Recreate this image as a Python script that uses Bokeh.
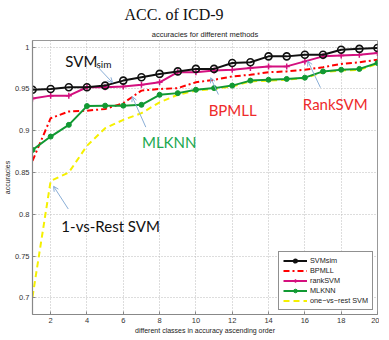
from bokeh.plotting import figure
from bokeh.models import (Range1d, FixedTicker, CustomJSTickFormatter, Legend, LegendItem,
                          Label, Arrow, OpenHead, Title)
from bokeh.embed import file_html
from bokeh.resources import INLINE

# ---- data ----
classes = list(range(1, 21))
svm_sim = [0.949, 0.950, 0.952, 0.952, 0.954, 0.960, 0.964, 0.968, 0.971, 0.974,
           0.974, 0.981, 0.982, 0.989, 0.989, 0.991, 0.991, 0.997, 0.998, 0.999]
bpmll = [0.864, 0.915, 0.923, 0.924, 0.926, 0.933, 0.948, 0.950, 0.951, 0.958,
         0.961, 0.965, 0.967, 0.970, 0.971, 0.973, 0.976, 0.980, 0.982, 0.985]
rank_svm = [0.9385, 0.942, 0.942, 0.952, 0.952, 0.953, 0.955, 0.958, 0.970, 0.970,
            0.972, 0.973, 0.975, 0.977, 0.977, 0.983, 0.989, 0.990, 0.991, 0.993]
mlknn = [0.877, 0.893, 0.907, 0.9295, 0.930, 0.930, 0.931, 0.943, 0.945, 0.949,
         0.951, 0.954, 0.960, 0.961, 0.962, 0.9635, 0.971, 0.973, 0.974, 0.981]
one_vs_rest = [0.701, 0.840, 0.850, 0.882, 0.903, 0.913, 0.921, 0.934, 0.943, 0.948,
               0.950, 0.953, 0.959, 0.960, 0.961, 0.963, 0.970, 0.972, 0.973, 0.980]

x_ticks = [2, 4, 6, 8, 10, 12, 14, 16, 18, 20]
y_ticks = [0.7, 0.75, 0.8, 0.85, 0.9, 0.95, 1.0]

legend_labels = ["SVMsim", "BPMLL", "rankSVM", "MLKNN", "one\u2212vs\u2212rest SVM"]

# annotations: (text, x, y, color, size)
notes = [
    ("SVM", 2.81, 0.9835, "#111111", "15px"),
    ("sim", 4.52, 0.980, "#111111", "10px"),
    ("MLKNN", 7.03, 0.8866, "#1aa84f", "15px"),
    ("BPMLL", 10.70, 0.9244, "#ee2a2a", "15px"),
    ("RankSVM", 15.89, 0.9315, "#ee2a2a", "15px"),
    ("1-vs-Rest SVM", 2.59, 0.7862, "#111111", "15px"),
]
# arrows: (x_start, y_start, x_end, y_end)
arrows = [
    (4.49, 0.9787, 5.41, 0.9575),
    (7.24, 0.9043, 6.49, 0.9409),
    (11.24, 0.9433, 10.81, 0.9634),
    (16.86, 0.9516, 16.16, 0.9835),
    (2.97, 0.8063, 2.16, 0.8335),
]

# ---- figure ----
p = figure(frame_width=345, frame_height=274, output_backend="svg", toolbar_location=None,
           x_range=Range1d(1, 20), y_range=Range1d(0.68, 1.008),
           min_border_left=26, min_border_right=2, min_border_top=34, min_border_bottom=19)
p.background_fill_color = "white"
p.border_fill_color = "white"
p.outline_line_color = "#999999"

sub = Title(text="accuracies for different methods", align="center", text_font="Liberation Sans",
            text_font_size="7.5px", text_font_style="normal", text_color="#222222", standoff=4)
main = Title(text="ACC. of ICD-9", align="left", offset=92, text_font="Liberation Serif",
             text_font_size="16px", text_font_style="normal", text_color="#111111", standoff=6)
p.add_layout(sub, "above")
p.add_layout(main, "above")

# axes
for ax in (p.xaxis[0], p.yaxis[0]):
    ax.axis_line_color = "#888888"
    ax.axis_line_width = 1.2
    ax.major_tick_in = 3
    ax.major_tick_out = 0
    ax.minor_tick_in = 0
    ax.minor_tick_out = 0
    ax.major_tick_line_color = "#888888"
    ax.major_label_text_font = "Liberation Sans"
    ax.major_label_text_font_size = "7.5px"
    ax.major_label_text_color = "#333333"
    ax.major_label_standoff = 3
    ax.axis_label_text_font = "Liberation Sans"
    ax.axis_label_text_font_size = "7px"
    ax.axis_label_text_font_style = "normal"
    ax.axis_label_text_color = "#222222"
    ax.axis_label_standoff = 1

p.xaxis.ticker = FixedTicker(ticks=x_ticks)
p.yaxis.ticker = FixedTicker(ticks=y_ticks)
p.yaxis.formatter = CustomJSTickFormatter(code="return (Math.round(tick*100)/100).toString();")
p.xaxis.axis_label = "different classes in accuracy ascending order"
p.yaxis.axis_label = "accuracies"

p.grid.grid_line_color = "#bbbbbb"
p.grid.grid_line_dash = "1 2"
p.grid.grid_line_width = 1

# ---- series ----
r_yel = p.line(classes, one_vs_rest, line_color="#f5f000", line_width=2, line_dash="6 4")
r_bp = p.line(classes, bpmll, line_color="#ff0000", line_width=2, line_dash="6 3 2 3")
r_ml = p.line(classes, mlknn, line_color="#119933", line_width=2)
r_ml_m = p.scatter(classes, mlknn, marker="circle", size=5, fill_color="#119933", line_color="#119933")
r_rk = p.line(classes, rank_svm, line_color="#d4107f", line_width=2)
r_rk_m = p.scatter(classes, rank_svm, marker="cross", size=6, line_color="#d4107f", line_width=1.5)
r_sv = p.line(classes, svm_sim, line_color="#111111", line_width=2)
r_sv_m = p.scatter(classes, svm_sim, marker="circle", size=7, fill_color=None,
                   line_color="#111111", line_width=1.6)

legend = Legend(items=[
    LegendItem(label=legend_labels[0], renderers=[r_sv, r_sv_m]),
    LegendItem(label=legend_labels[1], renderers=[r_bp]),
    LegendItem(label=legend_labels[2], renderers=[r_rk, r_rk_m]),
    LegendItem(label=legend_labels[3], renderers=[r_ml, r_ml_m]),
    LegendItem(label=legend_labels[4], renderers=[r_yel]),
], location="bottom_right")
legend.label_text_font = "Liberation Sans"
legend.label_text_font_size = "7.3px"
legend.label_text_color = "#222222"
legend.glyph_width = 24
legend.glyph_height = 9
legend.label_height = 9
legend.label_standoff = 3
legend.spacing = 1
legend.padding = 4
legend.margin = 4
legend.border_line_color = "#222222"
legend.border_line_width = 1
legend.background_fill_color = "white"
legend.background_fill_alpha = 1
p.add_layout(legend, "center")

for (txt, x, y, c, s) in notes:
    p.add_layout(Label(x=x, y=y, text=txt, text_color=c, text_font="Lato",
                       text_font_size=s, text_baseline="alphabetic", text_align="left"))

for (xs, ys, xe, ye) in arrows:
    p.add_layout(Arrow(end=OpenHead(size=5, line_color="#8aaed6", line_width=1),
                       x_start=xs, y_start=ys, x_end=xe, y_end=ye,
                       line_color="#8aaed6", line_width=1))

open("out.html", "w").write(file_html(p, INLINE))
